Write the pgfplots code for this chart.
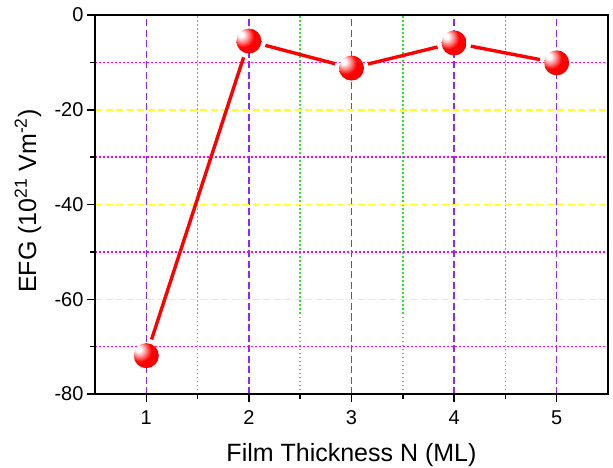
\documentclass[border=0pt]{standalone}
\usepackage{pgfplots}
\pgfplotsset{compat=1.18}
\usepackage{fontspec}
\setmainfont{Liberation Sans}
\usetikzlibrary{plotmarks}
\newcommand{\T}[1]{{\fontsize{20}{24}\selectfont #1}}
\pgfdeclareradialshading{redball}{\pgfqpoint{-17bp}{14bp}}{%
  color(0bp)=(white); color(5bp)=(white);
  color(13bp)=(red!45!white); color(22bp)=(red);
  color(55bp)=(red!92!black); color(75bp)=(red!80!black)}
\pgfdeclareplotmark{rball}{%
  \pgfpathcircle{\pgfpointorigin}{\pgfplotmarksize}%
  \pgfshadepath{redball}{0}%
  \pgfusepath{discard}}
\definecolor{gpurple}{RGB}{140,40,255}
\definecolor{ggreen}{RGB}{40,235,40}
\definecolor{gyellow}{RGB}{255,255,40}
\definecolor{gmag}{RGB}{255,0,255}
\begin{document}
\begin{tikzpicture}
\begin{axis}[
  name=ax,
  scale only axis,
  width=513pt, height=379pt,
  xmin=0.5, xmax=5.5, ymin=-80, ymax=0,
  xtick={1,2,3,4,5}, ytick={-80,-60,-40,-20,0},
  xticklabels={\T{1},\T{2},\T{3},\T{4},\T{5}},
  yticklabels={\T{-80},\T{-60},\T{-40},\T{-20},\T{0}},
  xticklabel style={yshift=-5pt},
  minor x tick num=1, minor y tick num=1,
  grid=both,
  major x grid style={color=gpurple, dash pattern=on 7pt off 3.5pt, line width=1.5pt},
  minor x grid style={color=ggreen, dash pattern=on 1.5pt off 2.5pt, line width=1.5pt},
  major y grid style={color=gyellow, dash pattern=on 7pt off 3.5pt, line width=1.5pt},
  minor y grid style={color=gmag, dash pattern=on 1.5pt off 2.5pt, line width=1.5pt},
  axis line style={line width=1.6pt},
  tick style={line width=1.5pt, black},
  major tick length=8pt, minor tick length=5pt,
  tick pos=left, tick align=outside,
  xlabel={Film Thickness N (ML)},
  ylabel={EFG (10\textsuperscript{21} Vm\textsuperscript{-2})},
  label style={font=\fontsize{25}{30}\selectfont},
  xlabel style={at={(axis description cs:0.5,-0.1794)}, anchor=base},
  ylabel style={at={(axis description cs:-0.115,0.509)}, anchor=base, rotate=0},
]
\addplot[red, line width=3.4pt, shorten <=17pt, shorten >=17pt] coordinates {(1,-71.9) (2,-5.5)};
\addplot[red, line width=3.4pt, shorten <=17pt, shorten >=17pt] coordinates {(2,-5.5) (3,-11.2)};
\addplot[red, line width=3.4pt, shorten <=17pt, shorten >=17pt] coordinates {(3,-11.2) (4,-5.9)};
\addplot[red, line width=3.4pt, shorten <=17pt, shorten >=17pt] coordinates {(4,-5.9) (5,-10.1)};
\addplot[only marks, mark=rball, mark size=12.5pt] coordinates {(1,-71.9) (2,-5.5) (3,-11.2) (4,-5.9) (5,-10.1)};
\end{axis}
\pgfresetboundingbox
\path[use as bounding box] ([xshift=-95pt,yshift=-73pt]ax.south west) rectangle ([xshift=5pt,yshift=15pt]ax.north east);
\end{tikzpicture}
\end{document}
